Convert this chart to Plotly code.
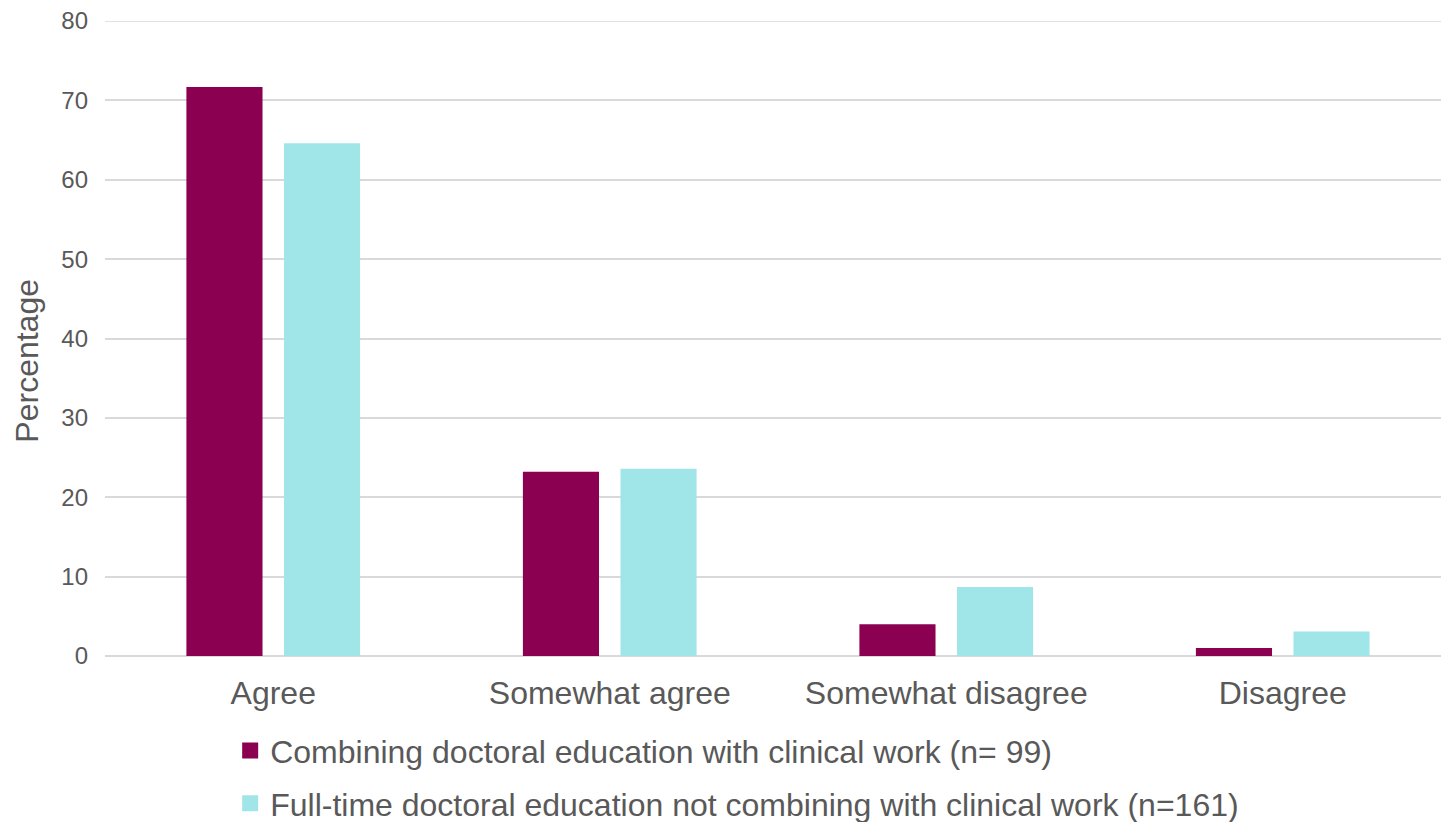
import plotly.graph_objects as go

categories = ["Agree", "Somewhat agree", "Somewhat disagree", "Disagree"]
combining = [71.7, 23.2, 4.0, 1.0]
full_time = [64.6, 23.6, 8.7, 3.1]
series_names = [
    "Combining doctoral education with clinical work (n= 99)",
    "Full-time doctoral education not combining with clinical work (n=161)",
]
y_ticks = [0, 10, 20, 30, 40, 50, 60, 70, 80]

MAROON = "#8B0050"
CYAN = "#A0E6E8"
TEXT = "#595959"
GRID = "#D9D9D9"
FONT = "Arial, Liberation Sans, sans-serif"

fig = go.Figure()
for i, (vals, name, col) in enumerate([(combining, series_names[0], MAROON),
                                       (full_time, series_names[1], CYAN)]):
    fig.add_trace(go.Bar(x=categories, y=vals, name=name, showlegend=False,
                         marker=dict(color=col, line=dict(width=0))))
    # legend proxy with a larger square swatch
    fig.add_trace(go.Scatter(x=[categories[0]], y=[None], mode="markers", name=name,
                             legendgroup=f"g{i}",
                             marker=dict(symbol="square", size=17, color=col)))

fig.update_xaxes(
    showline=False, showgrid=False, zeroline=False, automargin=False,
    tickfont=dict(size=32, color=TEXT, family=FONT),
    ticks="", ticklabelstandoff=15,
)
fig.update_yaxes(
    range=[0, 80], tickvals=y_ticks, automargin=False,
    showgrid=True, gridcolor=GRID, gridwidth=1.5,
    zeroline=True, zerolinecolor=GRID, zerolinewidth=1.5,
    tickfont=dict(size=24, color=TEXT, family=FONT),
    ticklabelstandoff=16, ticklabeloverflow="allow",
)

# top gridline (plotly skips the one on the axis edge)
fig.add_shape(type="line", xref="paper", x0=0, x1=1, yref="y", y0=y_ticks[-1], y1=y_ticks[-1],
              line=dict(color=GRID, width=1.5), layer="below")

# y-axis title placed as annotation to match the reference offset
fig.add_annotation(
    text="Percentage", textangle=-90, showarrow=False,
    xref="paper", yref="paper", x=-0.058, y=0.465,
    xanchor="center", yanchor="middle",
    font=dict(size=32, color=TEXT, family=FONT),
)

fig.update_layout(
    width=1449, height=822,
    plot_bgcolor="white", paper_bgcolor="white",
    barmode="group", bargap=0.42, bargroupgap=0.22,
    margin=dict(l=97, r=6, t=13, b=174, autoexpand=False),
    font=dict(family=FONT, color=TEXT),
    legend=dict(
        orientation="v", x=0.093, xanchor="left", y=-0.1059, yanchor="top",
        font=dict(size=32, color=TEXT, family=FONT),
        tracegroupgap=8, itemwidth=30,
    ),
    showlegend=True,
)

fig.write_html("out.html")
